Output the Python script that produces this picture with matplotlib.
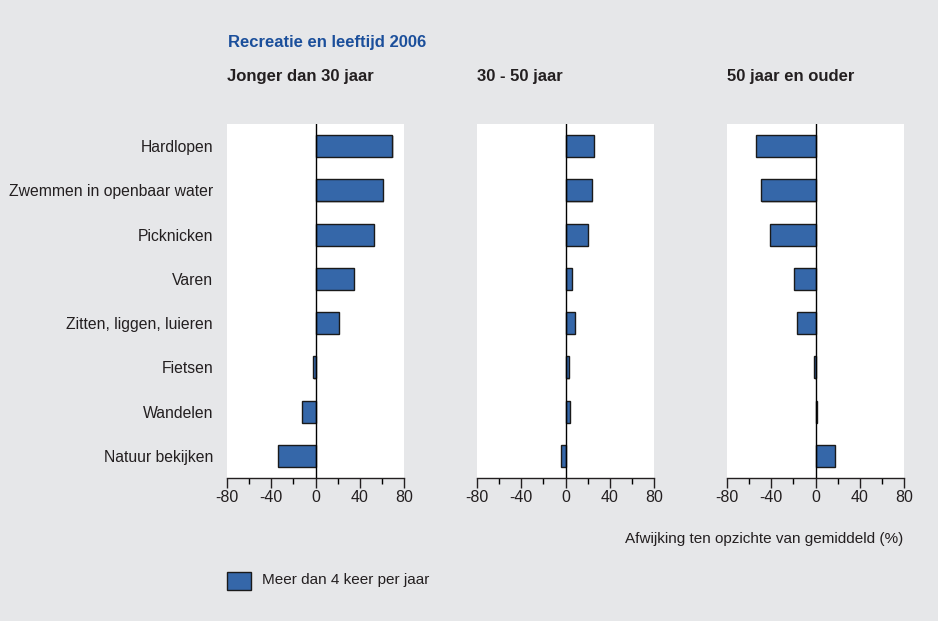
import matplotlib
matplotlib.use("Agg")
import matplotlib.pyplot as plt
from matplotlib.patches import Rectangle
from matplotlib.transforms import ScaledTranslation

plt.rcParams["font.family"] = ["Liberation Sans", "DejaVu Sans"]

# -----------------------------
# Data
# -----------------------------
activities = [
    "Hardlopen",
    "Zwemmen in openbaar water",
    "Picknicken",
    "Varen",
    "Zitten, liggen, luieren",
    "Fietsen",
    "Wandelen",
    "Natuur bekijken",
]
groups = ["Jonger dan 30 jaar", "30 - 50 jaar", "50 jaar en ouder"]
young = [69.5, 61, 53, 35, 21, -2.5, -12.5, -34]
middle = [25.5, 24, 20, 6, 8.5, 3, 4.3, -4]
old = [-53.5, -49, -41.5, -19.5, -16.5, -1.8, 1.5, 17.5]
values = [young, middle, old]
xticks = [-80, -40, 0, 40, 80]

bg = "#e6e7e9"
bar_color = "#3567a9"
text_color = "#231f20"

fig = plt.figure(figsize=(9.38, 6.21), dpi=100, facecolor=bg)
W, H = 938, 621

panel_left = [227, 477, 727]
panel_width = 177
top, bottom = 124, 478

for i, (left, grp, vals) in enumerate(zip(panel_left, groups, values)):
    ax = fig.add_axes([left / W, 1 - bottom / H, panel_width / W, (bottom - top) / H])
    ax.set_facecolor("white")
    y = list(range(len(activities)))
    # soft shadow behind the bars
    shadow = ax.transData + ScaledTranslation(1.2 / 100, -1.2 / 100, fig.dpi_scale_trans)
    ax.barh(y, vals, height=0.5, color="#9a9a9a", alpha=0.5, zorder=1, transform=shadow)
    ax.barh(y, vals, height=0.5, color=bar_color, edgecolor="#1a1a1a",
            linewidth=1.0, zorder=2)
    ax.axvline(0, color="black", linewidth=1.0, zorder=3)
    ax.set_xlim(-80, 80)
    ax.set_ylim(len(activities) - 0.5, -0.5)
    ax.set_xticks(xticks)
    ax.set_xticks([-60, -20, 20, 60], minor=True)
    ax.set_xticklabels([str(t) for t in xticks])
    ax.tick_params(axis="x", which="major", length=7, width=1, direction="out",
                   labelsize=11.5, colors=text_color, pad=2)
    ax.tick_params(axis="x", which="minor", length=4, width=1, direction="out")
    for s in ["top", "left", "right"]:
        ax.spines[s].set_visible(False)
    ax.spines["bottom"].set_linewidth(1.0)
    ax.spines["bottom"].set_color(text_color)
    if i == 0:
        ax.set_yticks(y)
        ax.set_yticklabels(activities, fontsize=11.3, color=text_color)
        ax.tick_params(axis="y", length=0, pad=10)
    else:
        ax.set_yticks([])
    fig.text(left / W, 1 - 76 / H, grp, fontsize=12, fontweight="bold",
             color=text_color, va="center", ha="left")

fig.text(228 / W, 1 - 43 / H, "Recreatie en leeftijd 2006", fontsize=12,
         fontweight="bold", color="#1b4f9b", va="center", ha="left")
fig.text(903 / W, 1 - 539 / H, "Afwijking ten opzichte van gemiddeld (%)",
         fontsize=11, color=text_color, va="center", ha="right")

fig.patches.append(Rectangle((227 / W, 1 - 590 / H), 24 / W, 18 / H,
                             transform=fig.transFigure, facecolor=bar_color,
                             edgecolor="#1a1a1a", linewidth=1.0))
fig.text(262 / W, 1 - 580 / H, "Meer dan 4 keer per jaar", fontsize=11,
         color=text_color, va="center", ha="left")

fig.savefig("out.png", dpi=100, facecolor=bg)
